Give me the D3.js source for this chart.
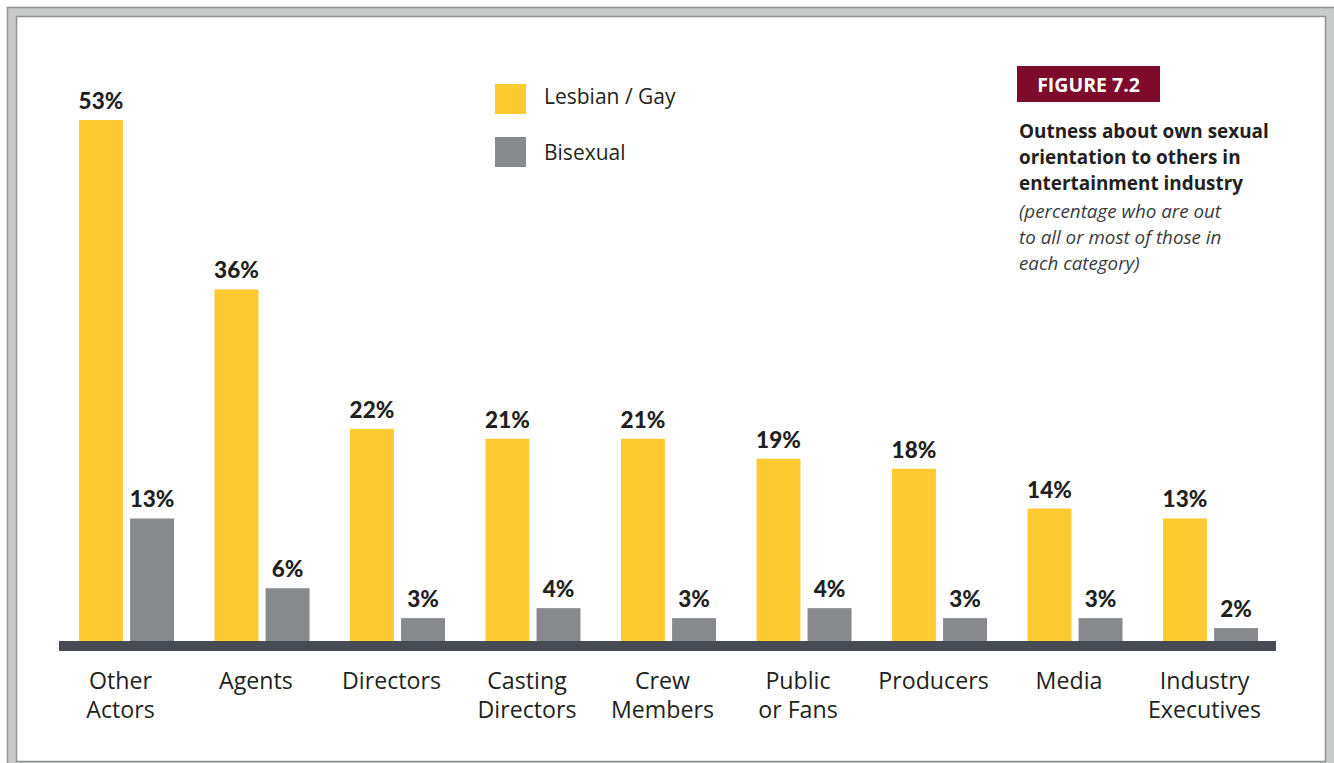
<!DOCTYPE html>
<html>
<head>
<meta charset="utf-8">
<script src="https://cdn.jsdelivr.net/npm/d3@7"></script>
<style>
  html, body { margin: 0; padding: 0; background: #ffffff; }
  svg { display: block; }
</style>
</head>
<body>
<svg id="chart" width="1334" height="763"></svg>
<script>
// ---- DATA ----
const categories = [
  ["Other", "Actors"],
  ["Agents"],
  ["Directors"],
  ["Casting", "Directors"],
  ["Crew", "Members"],
  ["Public", "or Fans"],
  ["Producers"],
  ["Media"],
  ["Industry", "Executives"]
];
const seriesNames = ["Lesbian / Gay", "Bisexual"];
const lesbianGay = [53, 36, 22, 21, 21, 19, 18, 14, 13];
const bisexual   = [13, 6, 3, 4, 3, 4, 3, 3, 2];
const figureLabel = "FIGURE 7.2";
const titleLines = ["Outness about own sexual", "orientation to others in", "entertainment industry"];
const subtitleLines = ["(percentage who are out", "to all or most of those in", "each category)"];

// ---- LAYOUT / STYLE ----
const colors = ["#fdcb31", "#87898d"];
const textColor = "#231f20";
const baseTop = 641;

const svg = d3.select("#chart");

// frame
svg.append("rect").attr("x", 7.5).attr("y", 7.5).attr("width", 1340).attr("height", 770)
  .attr("fill", "#c9cbca").attr("stroke", "#8f9194").attr("stroke-width", 1.5);
svg.append("rect").attr("x", 16.5).attr("y", 16.5).attr("width", 1309).attr("height", 745)
  .attr("fill", "#ffffff").attr("stroke", "#8f9194").attr("stroke-width", 1.5);

const idx = d3.range(categories.length);
const x0 = d3.scaleBand().domain(idx).range([79, 79 + 135.5 * 9]).paddingInner(0).paddingOuter(0);
const x1 = d3.scaleBand().domain([0, 1]).range([0, 95]).paddingInner(0.14).paddingOuter(0);
const y = d3.scaleLinear().domain([0, 53]).range([648, 120]);

const rows = idx.map(i => ({ i, vals: [lesbianGay[i], bisexual[i]] }));

const groups = svg.append("g").selectAll("g").data(rows).join("g")
  .attr("transform", d => `translate(${x0(d.i)},0)`);

groups.selectAll("rect").data(d => d.vals.map((v, s) => ({ v, s }))).join("rect")
  .attr("x", d => x1(d.s))
  .attr("y", d => y(d.v))
  .attr("width", x1.bandwidth())
  .attr("height", d => baseTop - y(d.v))
  .attr("fill", d => colors[d.s]);

groups.selectAll("text.val").data(d => d.vals.map((v, s) => ({ v, s }))).join("text")
  .attr("class", "val")
  .attr("x", d => x1(d.s) + x1.bandwidth() / 2)
  .attr("y", d => y(d.v) - 11)
  .attr("text-anchor", "middle")
  .attr("font-family", "Lato, 'Open Sans', sans-serif")
  .attr("font-weight", 900)
  .attr("font-size", 22.5)
  .attr("fill", textColor)
  .text(d => d.v + "%");

// baseline
svg.append("rect").attr("x", 59).attr("y", baseTop).attr("width", 1217).attr("height", 10)
  .attr("fill", "#474b54");

// category labels
groups.append("text")
  .attr("x", 41.5)
  .attr("text-anchor", "middle")
  .attr("font-family", "'Open Sans', sans-serif")
  .attr("font-weight", 500)
  .attr("font-size", 23.2)
  .attr("fill", textColor)
  .selectAll("tspan").data(d => categories[d.i]).join("tspan")
  .attr("x", 41.5)
  .attr("y", (d, k) => 689 + k * 29)
  .text(d => d);

// legend
const legend = svg.append("g").selectAll("g").data(seriesNames).join("g")
  .attr("transform", (d, k) => `translate(495, ${84 + k * 53})`);
legend.append("rect").attr("width", 31).attr("height", 30).attr("fill", (d, k) => colors[k]);
legend.append("text").attr("x", 49).attr("y", (d, k) => 20 + k * 3)
  .attr("font-family", "'Open Sans', sans-serif").attr("font-size", 21)
  .attr("fill", textColor).text(d => d);

// figure box
svg.append("rect").attr("x", 1017).attr("y", 66).attr("width", 143).attr("height", 36).attr("fill", "#7e0a2c");
svg.append("text").attr("x", 1088.5).attr("y", 91.5).attr("text-anchor", "middle")
  .attr("font-family", "'Open Sans', sans-serif").attr("font-weight", 700).attr("font-size", 19.5)
  .attr("fill", "#ffffff").text(figureLabel);

// title
svg.append("g").selectAll("text").data(titleLines).join("text")
  .attr("x", 1019).attr("y", (d, k) => 138 + k * 26)
  .attr("font-family", "'Open Sans', sans-serif").attr("font-weight", 700).attr("font-size", 18.9)
  .attr("fill", textColor).text(d => d);
svg.append("g").selectAll("text").data(subtitleLines).join("text")
  .attr("x", 1019).attr("y", (d, k) => 218 + k * 26)
  .attr("font-family", "'Open Sans', sans-serif").attr("font-style", "italic").attr("font-size", 18.8)
  .attr("fill", "#3b3b3d").text(d => d);
</script>
</body>
</html>
